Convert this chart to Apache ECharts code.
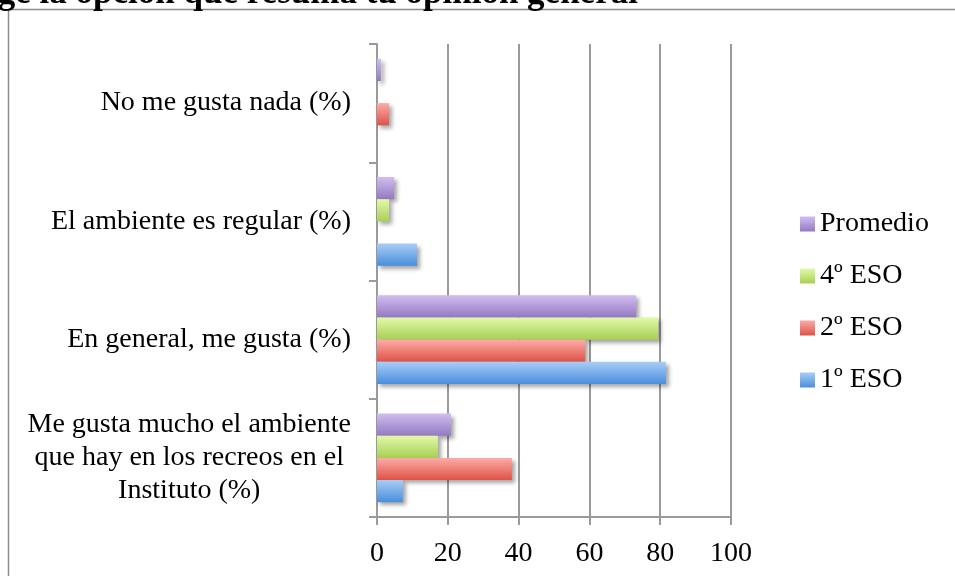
<!DOCTYPE html>
<html>
<head>
<meta charset="utf-8">
<script src="https://cdn.jsdelivr.net/npm/echarts@6/dist/echarts.min.js"></script>
<style>
  html, body { margin: 0; padding: 0; background: #fff; }
  #chart { width: 955px; height: 576px; }
</style>
</head>
<body>
<div id="chart"></div>
<script>
var categories = [
    'Me gusta mucho el ambiente\nque hay en los recreos en el\nInstituto (%)',
    'En general, me gusta (%)',
    'El ambiente es regular (%)',
    'No me gusta nada (%)'
];
var promedio = [20.9, 73.2, 4.8, 1.1];
var eso4 = [17.2, 79.4, 3.4, 0];
var eso2 = [38.1, 58.8, 0, 3.4];
var eso1 = [7.3, 81.6, 11.3, 0];
var xTicks = [0, 20, 40, 60, 80, 100];

var fontFam = '"Liberation Serif", serif';

function grad(top, bottom) {
    return new echarts.graphic.LinearGradient(0, 0, 0, 1, [
        {offset: 0, color: top},
        {offset: 1, color: bottom}
    ]);
}
function barSeries(name, data, top, bottom) {
    return {
        name: name,
        type: 'bar',
        data: data,
        barGap: '0%',
        barCategoryGap: '25%',
        itemStyle: {
            color: grad(top, bottom),
            shadowColor: 'rgba(0,0,0,0.35)',
            shadowBlur: 4,
            shadowOffsetX: 3,
            shadowOffsetY: 3
        }
    };
}

var chart = echarts.init(document.getElementById('chart'));
var option = {
    animation: false,
    textStyle: {fontFamily: fontFam},
    graphic: [
        {
            type: 'rect',
            shape: {x: 8.5, y: 9.5, width: 1200, height: 1000},
            style: {fill: 'none', stroke: '#8c8c8c', lineWidth: 1.5},
            silent: true
        },
        {
            type: 'text',
            x: -45,
            y: -6,
            style: {
                text: 'Elige la opción que resuma tu opinión general',
                font: 'bold 35px "Liberation Serif", serif',
                fill: '#000',
                verticalAlign: 'middle'
            },
            silent: true
        }
    ],
    legend: {
        orient: 'vertical',
        left: 800,
        top: 210,
        padding: 0,
        itemWidth: 15,
        itemHeight: 15,
        itemGap: 24,
        icon: 'rect',
        itemStyle: {shadowBlur: 0, shadowOffsetX: 0, shadowOffsetY: 0},
        textStyle: {fontFamily: fontFam, fontSize: 28, lineHeight: 28, color: '#000'},
        data: ['Promedio', '4º ESO', '2º ESO', '1º ESO']
    },
    grid: {left: 377, right: 224, top: 44, bottom: 59, containLabel: false},
    xAxis: {
        type: 'value',
        min: xTicks[0],
        max: xTicks[xTicks.length - 1],
        interval: 20,
        axisLine: {show: true, lineStyle: {color: '#9a9a9a', width: 2}},
        axisTick: {show: true, length: 8, lineStyle: {color: '#9a9a9a', width: 2}},
        splitLine: {show: true, lineStyle: {color: '#9a9a9a', width: 2}},
        axisLabel: {fontFamily: fontFam, fontSize: 28, color: '#000', margin: 23}
    },
    yAxis: {
        type: 'category',
        data: categories,
        axisLine: {show: true, lineStyle: {color: '#9a9a9a', width: 2}},
        axisTick: {show: true, length: 8, alignWithLabel: false, lineStyle: {color: '#9a9a9a', width: 2}},
        axisLabel: {
            fontFamily: fontFam,
            fontSize: 28,
            color: '#000',
            margin: 26,
            lineHeight: 33,
            formatter: function (v) {
                return v.split('\n').map(function (s) { return '{c|' + s + '}'; }).join('\n');
            },
            rich: {c: {align: 'center', fontFamily: fontFam, fontSize: 28, lineHeight: 33, color: '#000'}}
        }
    },
    series: [
        barSeries('Promedio', promedio, '#d1bdf0', '#9479c2'),
        barSeries('4º ESO', eso4, '#e3f9aa', '#a8cf55'),
        barSeries('2º ESO', eso2, '#fdaca7', '#de5247'),
        barSeries('1º ESO', eso1, '#a9cdf8', '#4a8edb')
    ]
};
chart.setOption(option);
</script>
</body>
</html>
